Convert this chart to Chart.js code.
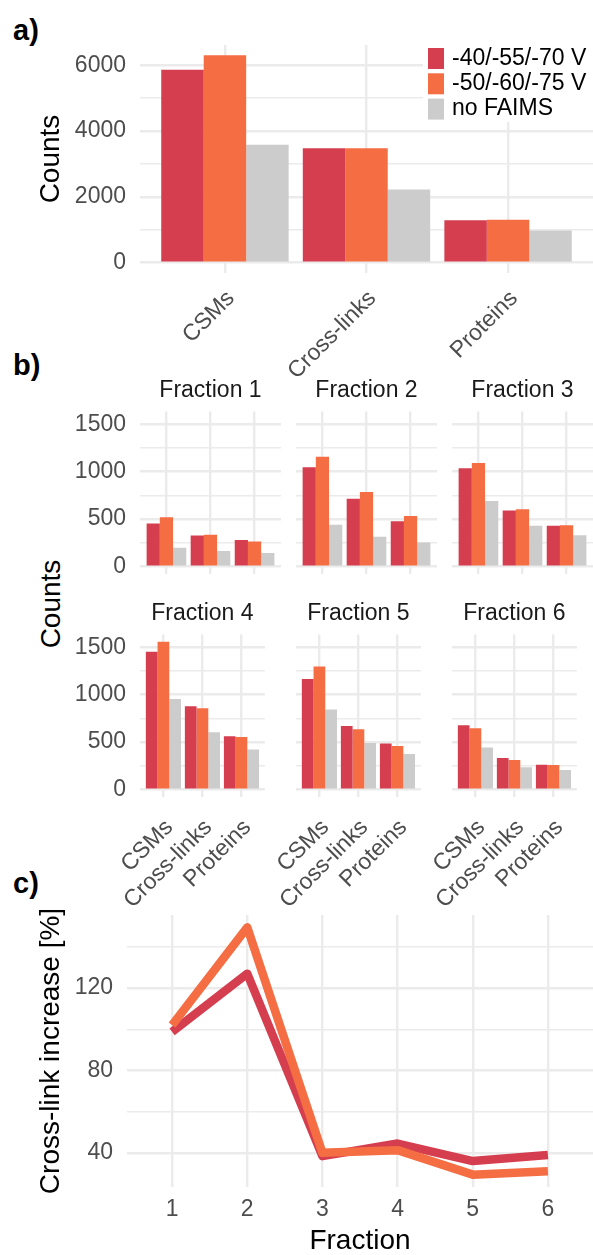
<!DOCTYPE html>
<html>
<head>
<meta charset="utf-8">
<title>FAIMS cross-link counts</title>
<script src="https://cdn.jsdelivr.net/npm/chart.js@4.4.1/dist/chart.umd.min.js"></script>
<style>
  html, body { margin: 0; padding: 0; background: #fff; }
  #page { position: relative; width: 593px; height: 1255px; overflow: hidden;
          font-family: 'Liberation Sans', Arial, sans-serif; }
  canvas { position: absolute; }
  .tag { position: absolute; font-weight: bold; font-size: 29px; line-height: 29px; color: #000; }
  .ytitle { position: absolute; font-size: 28px; line-height: 1.2; color: #000; white-space: nowrap;
            transform: translate(-50%, -50%) rotate(-90deg); }
</style>
</head>
<body>
<div id="page">
  <div class="tag" style="left:13px;top:16px">a)</div>
  <div class="tag" style="left:13px;top:351px">b)</div>
  <div class="tag" style="left:13px;top:869px">c)</div>
  <div class="ytitle" style="left:51px;top:604px">Counts</div>
  <canvas id="chartA" width="593" height="360" style="left:0;top:30px"></canvas>
  <canvas id="chartC" width="593" height="355" style="left:0;top:900px"></canvas>
</div>
<script>
// categories and series
const categories = ['CSMs', 'Cross-links', 'Proteins'];
const seriesNames = ['-40/-55/-70 V', '-50/-60/-75 V', 'no FAIMS'];
const seriesColors = ['#D53E4F', '#F46D43', '#CCCCCC'];

// a) totals
const totalsLow = [5860, 3480, 1290];
const totalsHigh = [6300, 3480, 1300];
const totalsNone = [3580, 2220, 980];

// b) per fraction, values in category order
const fractionNames = ['Fraction 1', 'Fraction 2', 'Fraction 3', 'Fraction 4', 'Fraction 5', 'Fraction 6'];
const fracLow = [[453, 328, 279], [1047, 715, 478], [1036, 590, 429], [1451, 878, 562], [1166, 671, 485], [678, 334, 263]];
const fracHigh = [[520, 335, 265], [1158, 785, 534], [1092, 604, 436], [1556, 857, 555], [1296, 636, 460], [646, 313, 260]];
const fracNone = [[199, 164, 143], [440, 314, 255], [691, 429, 331], [955, 604, 422], [843, 492, 376], [443, 235, 207]];

// c) cross-link increase
const fractions = [1, 2, 3, 4, 5, 6];
const increaseLow = [98.7, 127, 38.4, 44.5, 36, 38.9];
const increaseHigh = [102, 149.5, 40, 41.3, 29.4, 31.1];

// tick values (all gridlines) and the ones that carry a label
const ticksA = [0, 1000, 2000, 3000, 4000, 5000, 6000];
const labelledA = [0, 2000, 4000, 6000];
const ticksB = [0, 250, 500, 750, 1000, 1250, 1500];
const labelledB = [0, 500, 1000, 1500];
const ticksC = [40, 60, 80, 100, 120, 140];
const labelledC = [40, 80, 120];

Chart.defaults.font.family = "'Liberation Sans', Arial, sans-serif";
Chart.defaults.font.size = 23;
Chart.defaults.color = '#4D4D4D';
Chart.defaults.animation = false;
Chart.defaults.events = [];
Chart.defaults.plugins.legend.display = false;
Chart.defaults.plugins.tooltip.enabled = false;

const GRID = '#EBEBEB';

function fixedTicks(values) {
  return scale => { scale.ticks = values.map(v => ({ value: v })); };
}

function gridStyle(labelled) {
  return {
    color: GRID,
    lineWidth: ctx => (!labelled || (ctx.tick && labelled.includes(ctx.tick.value))) ? 2.4 : 1.4,
    drawTicks: false,
    offset: false
  };
}

// ggplot style 5% expansion
function expand(lo, hi) {
  const pad = (hi - lo) * 0.05;
  return { min: lo - pad, max: hi + pad };
}

function barSets(low, high, none) {
  return [low, high, none].map((vals, i) => ({
    label: seriesNames[i],
    data: vals.map((v, j) => ({ x: j + 1, y: v })),
    backgroundColor: seriesColors[i],
    borderWidth: 0,
    categoryPercentage: 0.9,
    barPercentage: 1
  }));
}

function categoryAxis(height, showLabels, pad) {
  return {
    type: 'linear',
    min: 0.4,
    max: categories.length + 0.6,
    offset: false,
    bounds: 'data',
    afterBuildTicks: fixedTicks(categories.map((c, i) => i + 1)),
    afterFit: s => { s.height = height; },
    grid: gridStyle(null),
    border: { display: false },
    ticks: {
      display: showLabels,
      autoSkip: false,
      minRotation: 45,
      maxRotation: 45,
      padding: pad,
      labelOffset: 6,
      callback: v => categories[v - 1]
    }
  };
}

function valueAxis(range, ticks, labelled, width, showLabels, padding) {
  return {
    type: 'linear',
    min: range.min,
    max: range.max,
    bounds: 'data',
    afterBuildTicks: fixedTicks(ticks),
    // fixed width, and no extra room asked for the end labels
    afterFit: s => { s.width = width; s.paddingTop = 0; s.paddingBottom = 0; },
    grid: gridStyle(labelled),
    border: { display: false },
    ticks: {
      display: showLabels,
      autoSkip: false,
      padding: padding,
      callback: v => labelled.includes(v) ? String(v) : ''
    }
  };
}

// legend drawn inside the top right corner of the plot
const cornerLegend = {
  id: 'cornerLegend',
  beforeDatasetsDraw(chart) {
    const { ctx, chartArea } = chart;
    const sets = chart.data.datasets;
    const rowH = 25.3, keyW = 16, keyH = 21, boxW = 170;
    const left = chartArea.right - boxW, top = chartArea.top;
    ctx.save();
    ctx.fillStyle = '#fff';
    ctx.fillRect(left, top, boxW, rowH * sets.length + 1);
    ctx.font = "23px 'Liberation Sans', Arial, sans-serif";
    ctx.textBaseline = 'middle';
    ctx.textAlign = 'left';
    sets.forEach((ds, i) => {
      const cy = top + 13.5 + i * rowH;
      ctx.fillStyle = ds.backgroundColor;
      ctx.fillRect(left + 5, cy - keyH / 2, keyW, keyH);
      ctx.fillStyle = '#000';
      ctx.fillText(ds.label, left + 29, cy);
    });
    ctx.restore();
  }
};

// a)
const rangeA = expand(0, Math.max(...totalsLow, ...totalsHigh, ...totalsNone));
const axisA = valueAxis(rangeA, ticksA, labelledA, 140, true, 14);
axisA.title = { display: true, text: 'Counts', color: '#000', font: { size: 28 }, padding: { top: 34, bottom: 0 } };

new Chart(document.getElementById('chartA'), {
  type: 'bar',
  data: { datasets: barSets(totalsLow, totalsHigh, totalsNone) },
  options: {
    responsive: false,
    layout: { padding: { top: 15, right: 0, bottom: 0, left: 0 } },
    scales: { x: categoryAxis(117, true, 12), y: axisA }
  },
  plugins: [cornerLegend]
});

// b) facets
const rangeB = expand(0, Math.max(...fracLow.flat(), ...fracHigh.flat(), ...fracNone.flat()));
const panelLeft = [140, 296, 452];
const rowTop = [372, 595];
const page = document.getElementById('page');

fractionNames.forEach((name, f) => {
  const col = f % 3, row = Math.floor(f / 3);
  const bottomRow = row === 1;
  const canvas = document.createElement('canvas');
  canvas.width = 221;
  canvas.height = bottomRow ? 310 : 216;
  canvas.style.left = (panelLeft[col] - 80) + 'px';
  canvas.style.top = rowTop[row] + 'px';
  page.appendChild(canvas);

  new Chart(canvas, {
    type: 'bar',
    data: { datasets: barSets(fracLow[f], fracHigh[f], fracNone[f]) },
    options: {
      responsive: false,
      layout: { padding: { top: 0, right: 0, bottom: bottomRow ? 0 : 14, left: 0 } },
      plugins: {
        title: {
          display: true, text: name, color: '#1A1A1A', fullSize: false,
          font: { size: 23, weight: 'normal', lineHeight: 1.15 }, padding: { top: 5, bottom: 8 }
        }
      },
      scales: {
        x: categoryAxis(bottomRow ? 108 : 0, bottomRow, 17),
        y: valueAxis(rangeB, ticksB, labelledB, 80, col === 0, 14)
      }
    }
  });
});

// c)
const rangeC = expand(Math.min(...increaseLow, ...increaseHigh), Math.max(...increaseLow, ...increaseHigh));
const axisC = valueAxis(rangeC, ticksC, labelledC, 127, true, 14);
axisC.title = { display: true, text: 'Cross-link increase [%]', color: '#000', font: { size: 28 }, padding: { top: 34, bottom: 0 } };

new Chart(document.getElementById('chartC'), {
  type: 'line',
  data: {
    datasets: [
      { label: seriesNames[0], data: fractions.map((x, i) => ({ x, y: increaseLow[i] })),
        borderColor: seriesColors[0], borderWidth: 8.5, pointRadius: 0, tension: 0,
        borderCapStyle: 'butt', borderJoinStyle: 'round', order: 1 },
      { label: seriesNames[1], data: fractions.map((x, i) => ({ x, y: increaseHigh[i] })),
        borderColor: seriesColors[1], borderWidth: 8.5, pointRadius: 0, tension: 0,
        borderCapStyle: 'butt', borderJoinStyle: 'round', order: 0 }
    ]
  },
  options: {
    responsive: false,
    layout: { padding: { top: 15, right: 0, bottom: 0, left: 0 } },
    scales: {
      x: {
        type: 'linear', min: 0.4, max: fractions.length + 0.6, bounds: 'data',
        afterBuildTicks: fixedTicks(fractions),
        afterFit: s => { s.height = 68; },
        grid: gridStyle(null),
        border: { display: false },
        ticks: { autoSkip: false, maxRotation: 0, padding: 9, callback: v => String(v) },
        title: { display: true, text: 'Fraction', color: '#000', font: { size: 28, lineHeight: 1 }, padding: 0 }
      },
      y: axisC
    }
  }
});
</script>
</body>
</html>
